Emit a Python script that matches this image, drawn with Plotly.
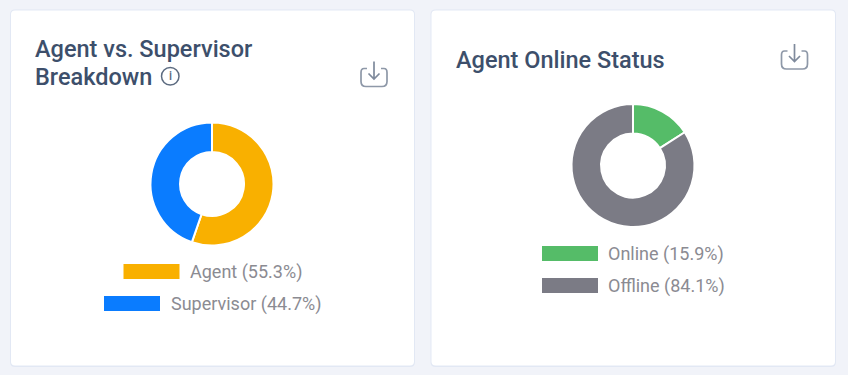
import plotly.graph_objects as go

W, H = 848, 375
FONT = "Roboto"

role_labels = ["Agent", "Supervisor"]
role_values = [55.3, 44.7]
role_colors = ["#f9b000", "#0a7cff"]

status_labels = ["Online", "Offline"]
status_values = [15.9, 84.1]
status_colors = ["#55bc68", "#7b7b85"]

title_left = ["Agent vs. Supervisor", "Breakdown"]
title_right = ["Agent Online Status"]


def px(x):
    return x / W


def py(y):
    return 1 - y / H


fig = go.Figure()


def donut(labels, values, colors, cx, cy, r):
    fig.add_trace(go.Pie(
        labels=labels, values=values, hole=0.52, sort=False, direction="clockwise",
        rotation=0, textinfo="none", showlegend=False,
        marker=dict(colors=colors, line=dict(color="#ffffff", width=2)),
        domain=dict(x=[px(cx - r), px(cx + r)], y=[py(cy + r), py(cy - r)]),
    ))


donut(role_labels, role_values, role_colors, 212, 184, 61.5)
donut(status_labels, status_values, status_colors, 633, 165.5, 61.5)

shapes = []
annotations = []


def rrect(x0, y0, x1, y1, r):
    p = lambda x, y: f"{px(x):.5f},{py(y):.5f}"
    return (f"M{p(x0 + r, y0)} L{p(x1 - r, y0)} Q{p(x1, y0)} {p(x1, y0 + r)} "
            f"L{p(x1, y1 - r)} Q{p(x1, y1)} {p(x1 - r, y1)} L{p(x0 + r, y1)} "
            f"Q{p(x0, y1)} {p(x0, y1 - r)} L{p(x0, y0 + r)} Q{p(x0, y0)} {p(x0 + r, y0)} Z")


def card(x0, y0, x1, y1):
    shapes.append(dict(type="path", xref="paper", yref="paper", layer="below",
                       path=rrect(x0 - 1, y0 - 1, x1 + 1, y1 + 1.5, 5),
                       fillcolor="#e2e8f4", line=dict(width=0)))
    shapes.append(dict(type="path", xref="paper", yref="paper", layer="below",
                       path=rrect(x0, y0, x1, y1, 4),
                       fillcolor="#ffffff", line=dict(width=0)))


card(11, 10.5, 414, 365.5)
card(431.5, 10.5, 835, 365.5)


def text(s, x, y, size, color, weight=400, anchor="left"):
    annotations.append(dict(text=s, x=px(x), y=py(y), xref="paper", yref="paper",
                            xanchor=anchor, yanchor="middle", showarrow=False,
                            borderpad=0, borderwidth=0,
                            font=dict(family=FONT, size=size, color=color, weight=weight)))


def legend_row(label, value, color, sx, tx, y):
    shapes.append(dict(type="rect", xref="paper", yref="paper",
                       x0=px(sx), x1=px(sx + 56), y0=py(y + 7.5), y1=py(y - 7.5),
                       fillcolor=color, line=dict(width=0)))
    text(f"{label} ({value}%)", tx, y, 18, "#8b8b92")


legend_row(role_labels[0], role_values[0], role_colors[0], 123.5, 189.5, 271.5)
legend_row(role_labels[1], role_values[1], role_colors[1], 104, 170.5, 303.5)
legend_row(status_labels[0], status_values[0], status_colors[0], 542, 608, 253.5)
legend_row(status_labels[1], status_values[1], status_colors[1], 542, 608, 285.5)

TITLE = "#3d4f6b"
text(title_left[0], 35, 49, 23.5, TITLE, 500)
text(title_left[1], 35, 77, 23.5, TITLE, 500)
text(title_right[0], 455.5, 59.5, 23.5, TITLE, 500)


def download_icon(x, y):
    p = lambda a, b: f"{px(x + a):.5f},{py(y + b):.5f}"
    tray = (f"M{p(7, 8)} L{p(4, 8)} Q{p(1, 8)} {p(1, 12)} L{p(1, 21)} Q{p(1, 26)} {p(6, 26)} "
            f"L{p(22, 26)} Q{p(27, 26)} {p(27, 21)} L{p(27, 12)} Q{p(27, 8)} {p(24, 8)} L{p(21, 8)}")
    arrow = f"M{p(14, 1)} L{p(14, 18)} M{p(8.5, 13)} L{p(14, 18.5)} L{p(19.5, 13)}"
    for d, c in ((tray, "#8e98a8"), (arrow, "#7f8a9c")):
        shapes.append(dict(type="path", xref="paper", yref="paper", path=d,
                           line=dict(color=c, width=1.7)))


download_icon(360, 60.5)
download_icon(780.5, 43)

shapes.append(dict(type="circle", xref="paper", yref="paper",
                   x0=px(161.5), x1=px(179), y0=py(85), y1=py(67.5),
                   fillcolor="rgba(0,0,0,0)", line=dict(color="#5c6b80", width=1.5)))
text("i", 170.3, 76.5, 12, "#5c6b80", 500, "center")

fig.update_layout(
    width=W, height=H, autosize=False,
    margin=dict(l=0, r=0, t=0, b=0),
    paper_bgcolor="#f1f3f9", plot_bgcolor="#f1f3f9",
    showlegend=False, shapes=shapes, annotations=annotations,
)
fig.write_html("out.html", config=dict(displayModeBar=False),
               post_script="document.body.style.margin='0';document.documentElement.style.overflow='hidden';")
